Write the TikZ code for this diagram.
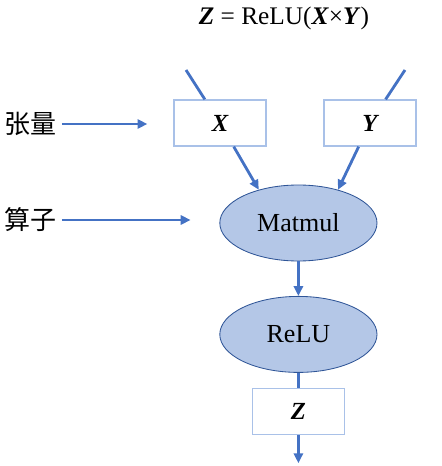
\documentclass[tikz,border=0pt]{standalone}
\usepackage{fontspec}
\setmainfont{Liberation Serif}
\newfontfamily\cjkfont{Noto Sans CJK SC}
\usepackage{tikz}
\usetikzlibrary{arrows.meta,shapes.geometric}
\definecolor{lineblue}{HTML}{4472C4}
\definecolor{opfill}{HTML}{B4C7E7}
\definecolor{opdraw}{HTML}{2F5597}
\definecolor{boxdraw}{HTML}{A9C1E8}
\tikzset{
  gLine/.style={draw=lineblue,line width=2pt},
  gArrow/.style={gLine,-{Triangle[length=7pt,width=6.5pt]}},
  gTensor/.style={rectangle,draw=boxdraw,fill=white,line width=.9pt,
        minimum width=2.3cm,minimum height=1.15cm,
        font=\fontsize{17.5}{20}\selectfont\bfseries\itshape},
  gOp/.style={ellipse,draw=opdraw,fill=opfill,line width=.6pt,
        minimum width=3.93cm,minimum height=1.9cm,font=\fontsize{18.5}{21}\selectfont},
  gLabel/.style={font=\fontsize{18.5}{22}\selectfont\cjkfont},
  gTitle/.style={font=\fontsize{18}{20}\selectfont},
}
\begin{document}
\begin{tikzpicture}[x=1cm,y=1cm]
\useasboundingbox (0,0) rectangle (11.05,11.65);
\node[gTitle] (eq) at (7.1,11.2)
  {\textbf{\textit{Z}} = ReLU(\textbf{\textit{X}}×\textbf{\textit{Y}})};
\coordinate (xin) at (4.65,9.9);
\coordinate (yin) at (10.125,9.9);
\coordinate (out) at (7.46,0.07);
\node[gTensor] (x) at (5.5,8.575) {X};
\node[gTensor] (y) at (9.25,8.575) {Y};
\node[gOp] (m) at (7.46,6.075) {Matmul};
\node[gOp] (r) at (7.46,3.29) {ReLU};
\node[gTensor] (z) at (7.46,1.36) {Z};
\node[gLabel] (t) at (0.775,8.55) {张量};
\node[gLabel] (s) at (0.775,6.15) {算子};
\draw[gLine] (xin)--(x);
\draw[gArrow] (x)--(m.140);
\draw[gLine] (yin)--(y);
\draw[gArrow] (y)--(m.40);
\draw[gArrow] (m)--(r);
\draw[gLine] (r)--(z);
\draw[gArrow] (z)--(out);
\draw[gArrow,shorten >=0.65cm] (t)--(t-|x.west);
\draw[gArrow,shorten >=0.72cm] (s)--(s-|m.west);
\end{tikzpicture}
\end{document}
